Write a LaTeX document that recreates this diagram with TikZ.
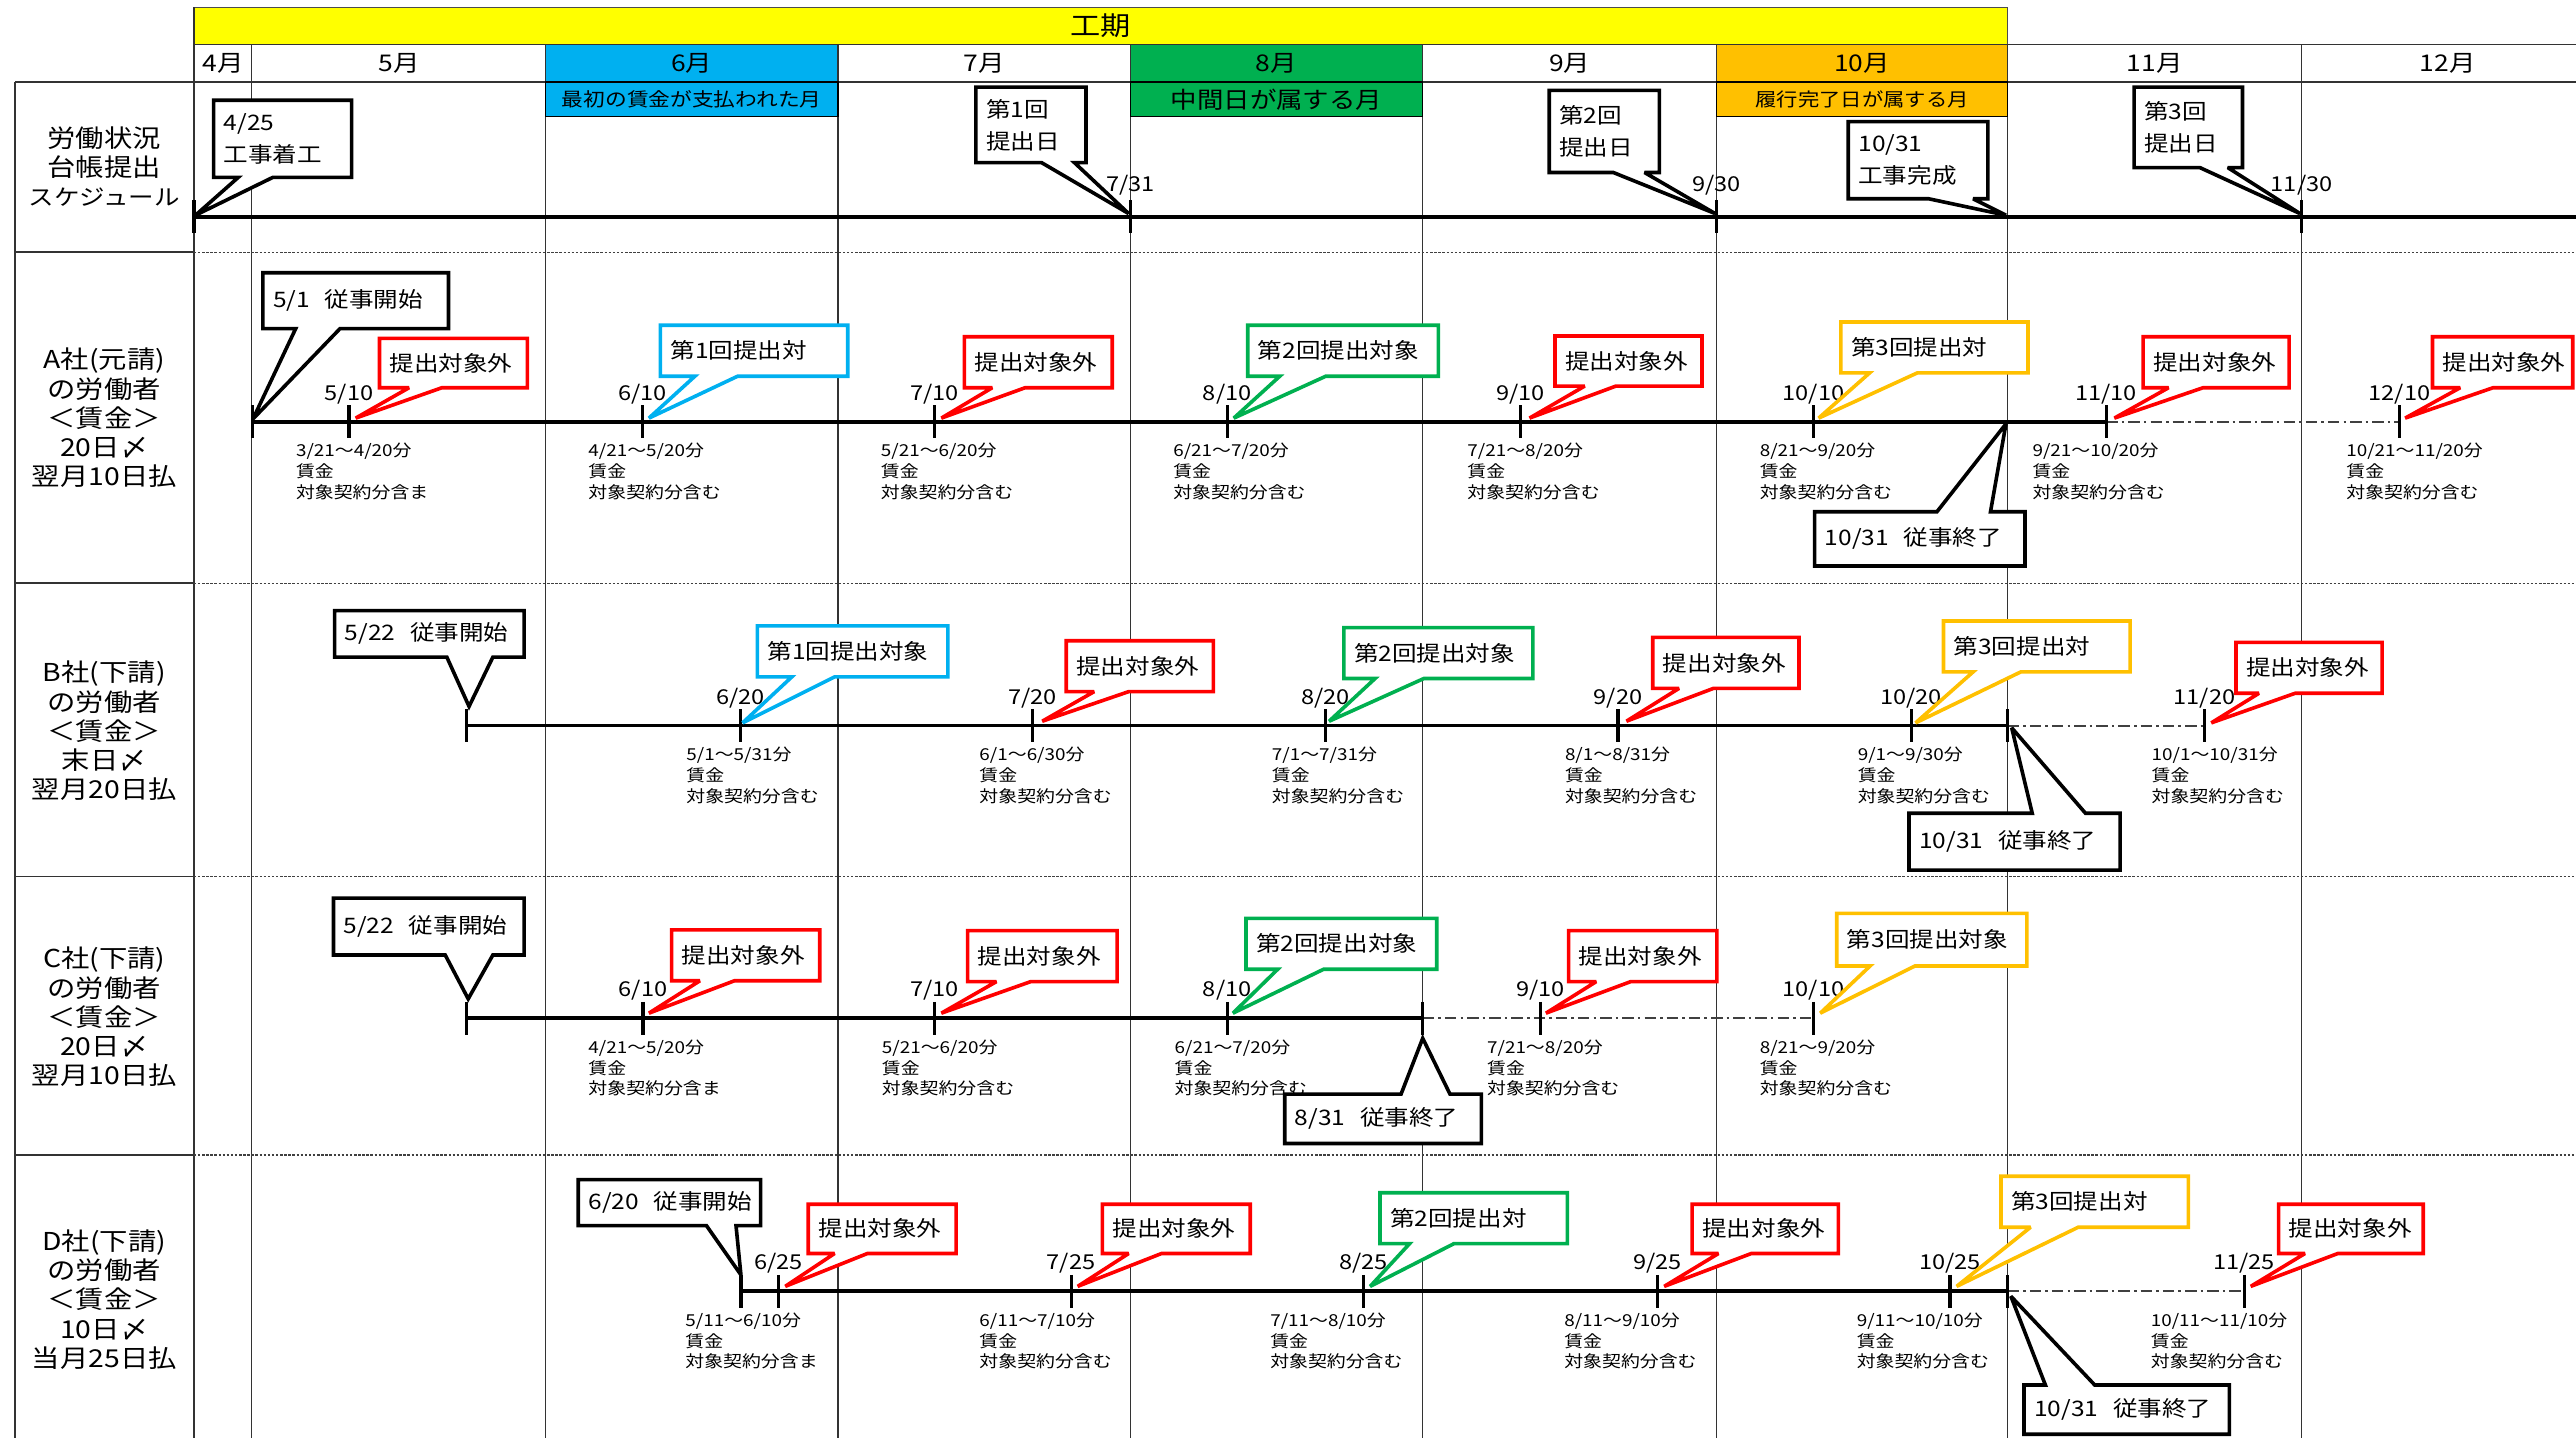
\documentclass[tikz,border=0pt]{standalone}
\usepackage{fontspec}
\setmainfont{Noto Sans CJK JP}[FakeStretch=1.15]
\definecolor{cyel}{HTML}{FFFF00}
\definecolor{cblue}{HTML}{00B0F0}
\definecolor{cgreen}{HTML}{00B050}
\definecolor{corange}{HTML}{FFC000}
\definecolor{cred}{HTML}{FF0000}
\tikzset{
 co/.style={line width=2.2pt, fill=white, line join=miter, miter limit=3},
 cob/.style={co, draw=black},
 cor/.style={co, draw=cred},
 cobl/.style={co, draw=cblue},
 cog/.style={co, draw=cgreen},
 coo/.style={co, draw=corange},
 cotext/.style={anchor=west, align=left, inner sep=0pt, font=\fontsize{13}{19.5}\selectfont},
 mytl/.style={line width=2.2pt, black},
 myext/.style={line width=1.1pt, black!75, dash pattern=on 7pt off 2.5pt on 1.5pt off 2.5pt},
 mytick/.style={line width=2pt, black},
 mytlab/.style={inner sep=0pt, font=\fontsize{12.5}{14}\selectfont},
 myptxt/.style={anchor=north west, align=left, inner sep=0pt, font=\fontsize{10}{12.6}\selectfont},
 mygrid/.style={line width=0.8pt, black!80},
 myrowsep/.style={line width=0.7pt, black!75, dash pattern=on 1.5pt off 1pt},
 mylab/.style={align=center, inner sep=0pt, font=\fontsize{15}{17.8}\selectfont},
 mymon/.style={inner sep=0pt, font=\fontsize{14}{16}\selectfont},
 mysub/.style={draw=black, line width=0.8pt},
}
\newcommand{\gap}{\hspace{9pt}}
\newcounter{cc}
% bottom wedge callout: style,x1,y1,x2,y2,b1,b2,tip,text
\newcommand{\calloutB}[9]{%
 \draw[#1] (#2,#3) -- (#4,#3) -- (#4,#5) -- (#7,#5) -- #8 -- (#6,#5) -- (#2,#5) -- cycle;
 \stepcounter{cc}\node[cotext] (co\thecc) at ({#2+6},{(#3+#5)/2}) {#9};}
% top wedge callout
\newcommand{\calloutT}[9]{%
 \draw[#1] (#2,#3) -- (#6,#3) -- #8 -- (#7,#3) -- (#4,#3) -- (#4,#5) -- (#2,#5) -- cycle;
 \stepcounter{cc}\node[cotext] (co\thecc) at ({#2+6},{(#3+#5)/2}) {#9};}
\newcommand{\myTick}[2]{\draw[mytick] ({#1},{#2-10}) -- ({#1},{#2+10});}
\newcommand{\myTL}[3]{\stepcounter{cc}\node[mytlab] (tl\thecc) at ({#1},{#2-17}) {#3};}
\newcommand{\myPT}[4]{\stepcounter{cc}\node[myptxt] (pt\thecc) at ({#1},{#2+13}) {#3\\賃金\\#4};}
\begin{document}
\begin{tikzpicture}[x=1pt,y=-1pt]
\useasboundingbox (0,0) rectangle (1568,875);
\fill[white] (0,0) rectangle (1568,875);

% ---------- header ----------
\draw[fill=cyel, draw=black!70, line width=1pt] (118,4.5) rectangle (1222,27);
\node[inner sep=0pt, font=\fontsize{16}{18}\selectfont] (koki) at (670,15.5) {工期};
\fill[cblue] (332,27) rectangle (510,50);
\fill[cgreen] (688,27) rectangle (866,50);
\fill[corange] (1045,27) rectangle (1222,50);

% grid lines
\draw[mygrid] (118,27) -- (1568,27);
\draw[mygrid] (9,50) -- (1568,50);
\draw[mygrid, line width=1pt] (9,50) -- (9,875);
\draw[mygrid, line width=1pt] (118,4.5) -- (118,875);
\foreach \gx in {153,332,510,688,866,1045,1222,1401} {\draw[mygrid] (\gx,27) -- (\gx,875);}
\foreach \gy in {153.5,355,533.6,703} {
  \draw[mygrid, line width=1pt] (9,\gy) -- (118,\gy);
  \draw[myrowsep] (118,\gy) -- (1568,\gy);}

% month labels
\node[mymon] (m4) at (136,38.5) {4月};
\node[mymon] (m5) at (243,38.5) {5月};
\node[mymon] (m6) at (421,38.5) {6月};
\node[mymon] (m7) at (599,38.5) {7月};
\node[mymon] (m8) at (777,38.5) {8月};
\node[mymon] (m9) at (955.5,38.5) {9月};
\node[mymon] (m10) at (1133.5,38.5) {10月};
\node[mymon] (m11) at (1311.5,38.5) {11月};
\node[mymon] (m12) at (1490,38.5) {12月};

% sub headers
\draw[mysub, fill=cblue] (332,50) rectangle (510,71);
\node[inner sep=0pt, font=\fontsize{11.5}{13}\selectfont] (h6) at (421,60.5) {最初の賃金が支払われた月};
\draw[mysub, fill=cgreen] (688,50) rectangle (866,71);
\node[inner sep=0pt, font=\fontsize{14}{16}\selectfont] (h8) at (777,60.5) {中間日が属する月};
\draw[mysub, fill=corange] (1045,50) rectangle (1222,71);
\node[inner sep=0pt, font=\fontsize{11.3}{13}\selectfont] (h10) at (1133.5,60.5) {履行完了日が属する月};

% row labels
\node[mylab] (lS) at (63.5,101.5) {労働状況\\台帳提出\\{\fontsize{13.5}{17.8}\selectfont スケジュール}};
\node[mylab] (lA) at (63.5,254.5) {A社(元請)\\の労働者\\＜賃金＞\\20日〆\\翌月10日払};
\node[mylab] (lB) at (63.5,445) {B社(下請)\\の労働者\\＜賃金＞\\末日〆\\翌月20日払};
\node[mylab] (lC) at (63.5,619) {C社(下請)\\の労働者\\＜賃金＞\\20日〆\\翌月10日払};
\node[mylab] (lD) at (63.5,791) {D社(下請)\\の労働者\\＜賃金＞\\10日〆\\当月25日払};

% ---------- schedule row ----------
\coordinate (s0) at (118,132); \coordinate (s1) at (1568,132);
\draw[mytl] (s0) -- (s1);
\foreach \t in {118,688,1045,1401} {\myTick{\t}{132}}
\myTL{688}{130}{7/31}
\myTL{1045}{130}{9/30}
\myTL{1401}{130}{11/30}

% ---------- row A ----------
\coordinate (a0) at (153.7,256.7); \coordinate (a1) at (1282,256.7); \coordinate (a2) at (1460.6,256.7);
\draw[mytl] (a0) -- (a1);
\draw[myext] (a1) -- (a2);
\foreach \t in {153.7,212.5,391,569,747,925.5,1103.8,1282,1460.6} {\myTick{\t}{256.7}}
\myTL{212.5}{256.7}{5/10}
\myTL{391}{256.7}{6/10}
\myTL{569}{256.7}{7/10}
\myTL{747}{256.7}{8/10}
\myTL{925.5}{256.7}{9/10}
\myTL{1103.8}{256.7}{10/10}
\myTL{1282}{256.7}{11/10}
\myTL{1460.6}{256.7}{12/10}
\myPT{180}{256.7}{3/21～4/20分}{対象契約分含ま}
\myPT{358}{256.7}{4/21～5/20分}{対象契約分含む}
\myPT{536}{256.7}{5/21～6/20分}{対象契約分含む}
\myPT{714}{256.7}{6/21～7/20分}{対象契約分含む}
\myPT{893}{256.7}{7/21～8/20分}{対象契約分含む}
\myPT{1071}{256.7}{8/21～9/20分}{対象契約分含む}
\myPT{1237}{256.7}{9/21～10/20分}{対象契約分含む}
\myPT{1428}{256.7}{10/21～11/20分}{対象契約分含む}

% ---------- row B ----------
\coordinate (b0) at (284,441.7); \coordinate (b1) at (1222,441.7); \coordinate (b2) at (1341.8,441.7);
\draw[mytl] (b0) -- (b1);
\draw[myext] (b1) -- (b2);
\foreach \t in {284,450.7,628.5,806.7,984.9,1163.3,1222,1341.8} {\myTick{\t}{441.7}}
\myTL{450.7}{441.7}{6/20}
\myTL{628.5}{441.7}{7/20}
\myTL{806.7}{441.7}{8/20}
\myTL{984.9}{441.7}{9/20}
\myTL{1163.3}{441.7}{10/20}
\myTL{1341.8}{441.7}{11/20}
\myPT{417.6}{441.7}{5/1～5/31分}{対象契約分含む}
\myPT{596}{441.7}{6/1～6/30分}{対象契約分含む}
\myPT{774}{441.7}{7/1～7/31分}{対象契約分含む}
\myPT{952.4}{441.7}{8/1～8/31分}{対象契約分含む}
\myPT{1130.6}{441.7}{9/1～9/30分}{対象契約分含む}
\myPT{1309.5}{441.7}{10/1～10/31分}{対象契約分含む}

% ---------- row C ----------
\coordinate (c0) at (284,619.8); \coordinate (c1) at (866,619.8); \coordinate (c2) at (1103.8,619.8);
\draw[mytl] (c0) -- (c1);
\draw[myext] (c1) -- (c2);
\foreach \t in {284,391.4,569,747,866,937.7,1103.8} {\myTick{\t}{619.8}}
\myTL{391.4}{619.8}{6/10}
\myTL{569}{619.8}{7/10}
\myTL{747}{619.8}{8/10}
\myTL{937.7}{619.8}{9/10}
\myTL{1103.8}{619.8}{10/10}
\myPT{358}{619.8}{4/21～5/20分}{対象契約分含ま}
\myPT{536.6}{619.8}{5/21～6/20分}{対象契約分含む}
\myPT{714.8}{619.8}{6/21～7/20分}{対象契約分含む}
\myPT{905}{619.8}{7/21～8/20分}{対象契約分含む}
\myPT{1071}{619.8}{8/21～9/20分}{対象契約分含む}

% ---------- row D ----------
\coordinate (d0) at (451,786); \coordinate (d1) at (1222,786); \coordinate (d2) at (1366,786);
\draw[mytl] (d0) -- (d1);
\draw[myext] (d1) -- (d2);
\foreach \t in {451,474,652,830,1009,1187,1222,1366} {\myTick{\t}{786}}
\myTL{474}{786}{6/25}
\myTL{652}{786}{7/25}
\myTL{830}{786}{8/25}
\myTL{1009}{786}{9/25}
\myTL{1187}{786}{10/25}
\myTL{1366}{786}{11/25}
\myPT{417}{786}{5/11～6/10分}{対象契約分含ま}
\myPT{596}{786}{6/11～7/10分}{対象契約分含む}
\myPT{773}{786}{7/11～8/10分}{対象契約分含む}
\myPT{952}{786}{8/11～9/10分}{対象契約分含む}
\myPT{1130}{786}{9/11～10/10分}{対象契約分含む}
\myPT{1309}{786}{10/11～11/10分}{対象契約分含む}

% ---------- callouts: schedule ----------
\calloutB{cob}{130}{61}{214}{108}{145}{166}{(119,131)}{4/25\\工事着工}
\calloutB{cob}{594}{53}{661}{99}{634}{654}{(687,130)}{第1回\\提出日}
\calloutB{cob}{943}{55}{1010}{105}{982}{1001}{(1044,130)}{第2回\\提出日}
\calloutB{cob}{1125}{74}{1210}{121}{1174}{1201}{(1221,131)}{10/31\\工事完成}
\calloutB{cob}{1299}{53}{1365}{102}{1339}{1356}{(1400,130)}{第3回\\提出日}

% ---------- callouts: row A ----------
\calloutB{cob}{160}{166}{273}{200}{180}{207}{(154,255)}{5/1\gap 従事開始}
\calloutB{cor}{231}{206}{321}{236}{249}{269}{(216.5,254.5)}{提出対象外}
\calloutB{cobl}{402}{198}{516}{229}{423}{449}{(395,254.5)}{第1回提出対}
\calloutB{cor}{587}{205}{677}{236}{604}{624}{(573,254.5)}{提出対象外}
\calloutB{cog}{759.5}{198}{875.5}{229}{779}{807}{(751,254.5)}{第2回提出対象}
\calloutB{cor}{946.5}{204.5}{1036}{235}{964.6}{983.6}{(931,254.5)}{提出対象外}
\calloutB{coo}{1120.5}{196}{1234.4}{227}{1138}{1167}{(1107,254.5)}{第3回提出対}
\calloutB{cor}{1304.5}{205}{1393.4}{236}{1320}{1341}{(1287,254.5)}{提出対象外}
\calloutB{cor}{1480.6}{205}{1566}{236}{1497.5}{1517.5}{(1464,254.5)}{提出対象外}
\calloutT{cob}{1104.5}{311.5}{1232.6}{344.5}{1179}{1211.6}{(1221,258)}{10/31\gap 従事終了}

% ---------- callouts: row B ----------
\calloutB{cob}{203.7}{371.7}{319}{400}{272}{300}{(285.5,430)}{5/22\gap 従事開始}
\calloutB{cobl}{461}{381}{577}{412}{482}{508}{(452,440)}{第1回提出対象}
\calloutB{cor}{649}{390}{738.6}{421}{666}{687}{(634.4,439)}{提出対象外}
\calloutB{cog}{818}{382}{933}{413}{837}{866.7}{(809,439)}{第2回提出対象}
\calloutB{cor}{1006}{388}{1095}{419}{1022}{1043}{(990,439)}{提出対象外}
\calloutB{coo}{1183}{378}{1296.6}{409}{1201}{1230}{(1166,440)}{第3回提出対}
\calloutB{cor}{1361}{391}{1450}{422}{1375}{1397}{(1346,440)}{提出対象外}
\calloutT{cob}{1162}{495}{1290.5}{529.6}{1237}{1269.4}{(1224.5,443)}{10/31\gap 従事終了}

% ---------- callouts: row C ----------
\calloutB{cob}{203}{546.7}{319}{581.3}{271}{300}{(285,608)}{5/22\gap 従事開始}
\calloutB{cor}{408.8}{566}{499}{597}{426}{447}{(395,616.7)}{提出対象外}
\calloutB{cor}{589}{566.5}{680}{597.5}{606.5}{627.4}{(573,616.7)}{提出対象外}
\calloutB{cog}{758.4}{559}{874.5}{590}{777.7}{805.6}{(750.5,616.7)}{第2回提出対象}
\calloutB{cor}{954.8}{566.5}{1045}{597.5}{971.6}{992.6}{(941,616.7)}{提出対象外}
\calloutB{coo}{1118}{556}{1233.7}{588}{1138.3}{1165.6}{(1108,616.7)}{第3回提出対象}
\calloutT{cob}{782}{666}{901.7}{696}{852.8}{882.6}{(866,632)}{8/31\gap 従事終了}

% ---------- callouts: row D ----------
\calloutB{cob}{352}{718}{463}{746}{430}{448}{(451,776)}{6/20\gap 従事開始}
\calloutB{cor}{492}{733}{582}{763}{508}{528}{(478,783)}{提出対象外}
\calloutB{cor}{671}{733}{761}{763}{687}{707}{(656,783)}{提出対象外}
\calloutB{cog}{840}{726}{954}{757}{858}{885}{(834,783)}{第2回提出対}
\calloutB{cor}{1030}{733}{1119}{763}{1046}{1066}{(1013,783)}{提出対象外}
\calloutB{coo}{1218}{716}{1332}{747}{1236}{1265}{(1191,783)}{第3回提出対}
\calloutB{cor}{1387}{733}{1475}{763}{1403}{1423}{(1370,783)}{提出対象外}
\calloutT{cob}{1232}{843}{1357}{873}{1245}{1275}{(1224,789)}{10/31\gap 従事終了}

\end{tikzpicture}
\end{document}
